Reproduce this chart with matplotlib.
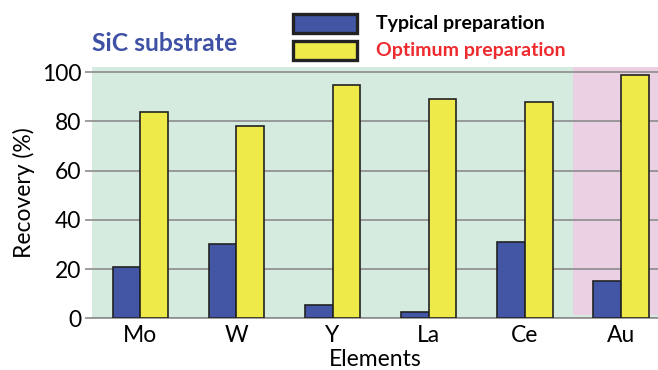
import matplotlib
matplotlib.use("Agg")
import matplotlib.pyplot as plt
from matplotlib.patches import Rectangle
import numpy as np

elements = ['Mo', 'W', 'Y', 'La', 'Ce', 'Au']
typical = [21, 30, 5.3, 2.4, 31, 15]
optimum = [84, 78, 95, 89, 88, 99]
yticks = [0, 20, 40, 60, 80, 100]
series_names = ['Typical preparation', 'Optimum preparation']

plt.rcParams['font.family'] = ['Lato', 'DejaVu Sans']

W, H = 658, 370
fig = plt.figure(figsize=(W / 100, H / 100), dpi=100)
left, bottom, top = 91.7, 318.3, 67.3
ax = fig.add_axes([left / W, 1 - bottom / H, 1 - left / W, (bottom - top) / H])

x = np.arange(len(elements))
w = 0.288
blue, yellow = '#4355a5', '#eeea4a'
ax.set_facecolor('#d5ebdf')
ax.axvspan(4.5, 5.6, ymin=0.012, color='#ebd0e4', zorder=0, lw=0)
ax.bar(x - w / 2, typical, w, color=blue, edgecolor='#222222', lw=1.2, zorder=3)
ax.bar(x + w / 2, optimum, w, color=yellow, edgecolor='#222222', lw=1.2, zorder=3)

ax.set_xlim(-0.505, 5.385)
ax.set_ylim(0, 102)
ax.set_yticks(yticks)
ax.set_xticks(x)
ax.set_xticklabels(elements)
ax.yaxis.grid(True, color='#8c8c8c', lw=1.2)
ax.set_axisbelow(True)
for s in ['top', 'right', 'left']:
    ax.spines[s].set_visible(False)
ax.spines['bottom'].set_color('#8c8c8c')
ax.spines['bottom'].set_linewidth(1.2)
ax.tick_params(axis='y', length=5, width=1.2, color='#8c8c8c', pad=2.5, labelsize=16.5)
ax.tick_params(axis='x', length=0, pad=5, labelsize=16.5)
ax.set_ylabel('Recovery (%)', fontsize=16.5, labelpad=5)
ax.set_xlabel('Elements', fontsize=16.5, labelpad=2)

fig.text(left / W, 1 - 51 / H, 'SiC substrate', fontsize=17.8, fontweight='bold',
         color='#3f51a5', va='baseline', ha='left')

for i, (name, col, tcol) in enumerate(zip(series_names, [blue, yellow], ['black', '#ee2a2f'])):
    yc = 23.5 + i * 27
    fig.add_artist(Rectangle((292.7 / W, 1 - (yc + 9.2) / H), 64 / W, 18.4 / H,
                             transform=fig.transFigure, fc=col, ec='#222222', lw=2.4))
    fig.text(376 / W, 1 - yc / H, name, fontsize=14, fontweight='bold', color=tcol,
             va='center', ha='left')

fig.savefig('out.png', dpi=100)
